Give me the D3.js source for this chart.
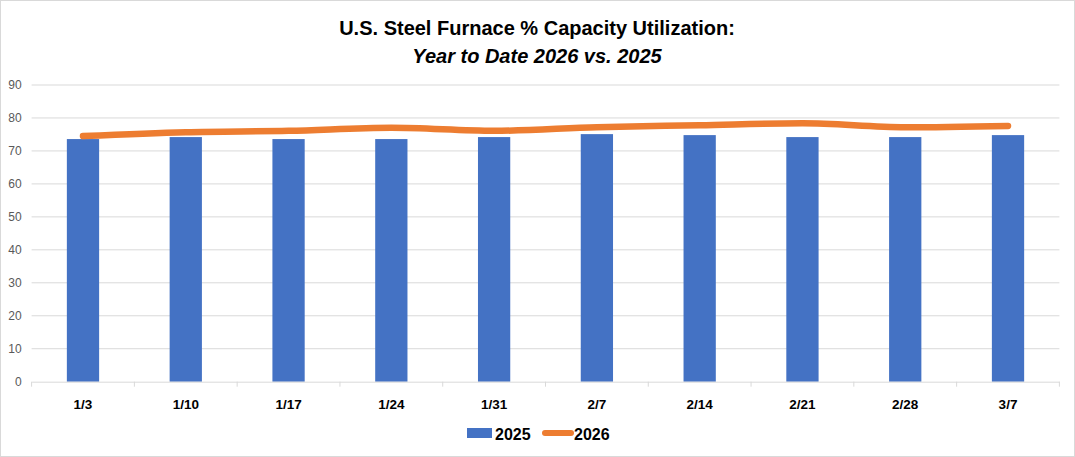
<!DOCTYPE html>
<html>
<head>
<meta charset="utf-8">
<script src="https://cdn.jsdelivr.net/npm/d3@7"></script>
<style>
  body { margin: 0; background: #fff; }
  svg { display: block; font-family: "Liberation Sans", Arial, sans-serif; }
</style>
</head>
<body>
<svg id="chart" width="1075" height="457"></svg>
<script>
// Chart data
const weeks = ["1/3", "1/10", "1/17", "1/24", "1/31", "2/7", "2/14", "2/21", "2/28", "3/7"];
const values2025 = [73.6, 74.2, 73.6, 73.6, 74.2, 75.1, 74.8, 74.2, 74.2, 74.8];
const values2026 = [74.5, 75.7, 76.1, 77.0, 76.1, 77.2, 77.8, 78.4, 77.2, 77.6];
const yTicks = [0, 10, 20, 30, 40, 50, 60, 70, 80, 90];

const svg = d3.select("#chart");
const width = 1075, height = 457;
const margin = { top: 85, right: 15.6, bottom: 75.3, left: 31.6 };

// chart border
svg.append("rect")
    .attr("x", 0.5).attr("y", 0.5)
    .attr("width", width - 1).attr("height", height - 1)
    .attr("fill", "#fff").attr("stroke", "#d9d9d9");

// Title
svg.append("text")
    .attr("x", 537).attr("y", 35)
    .attr("text-anchor", "middle")
    .attr("font-size", 20).attr("font-weight", "bold")
    .attr("fill", "#000")
    .text("U.S. Steel Furnace % Capacity Utilization:");
svg.append("text")
    .attr("x", 537).attr("y", 63)
    .attr("text-anchor", "middle")
    .attr("font-size", 20).attr("font-weight", "bold").attr("font-style", "italic")
    .attr("fill", "#000")
    .text("Year to Date 2026 vs. 2025");

const x = d3.scaleBand()
    .domain(weeks)
    .range([margin.left, width - margin.right])
    .paddingInner(0.686).paddingOuter(0.343);

const xBand = d3.scaleBand()
    .domain(weeks)
    .range([margin.left, width - margin.right]);

const y = d3.scaleLinear()
    .domain([0, 90])
    .range([height - margin.bottom, margin.top]);

// gridlines
svg.append("g")
    .selectAll("line")
    .data(yTicks.slice(1))
    .join("line")
    .attr("x1", margin.left).attr("x2", width - margin.right)
    .attr("y1", d => y(d)).attr("y2", d => y(d))
    .attr("stroke", "#d9d9d9").attr("stroke-width", 1);

// y axis labels
const yAxis = svg.append("g")
    .attr("transform", `translate(${margin.left - 10},0)`)
    .call(d3.axisLeft(y).tickValues(yTicks).tickSize(0).tickPadding(0));
yAxis.select(".domain").remove();
yAxis.selectAll("text")
    .attr("font-size", 12)
    .attr("fill", "#595959")
    .attr("font-family", "Liberation Sans, Arial, sans-serif");

// bars
svg.append("g")
    .selectAll("rect")
    .data(weeks)
    .join("rect")
    .attr("x", d => x(d))
    .attr("width", x.bandwidth())
    .attr("y", (d, i) => y(values2025[i]))
    .attr("height", (d, i) => y(0) - y(values2025[i]))
    .attr("fill", "#4472c4");

// x axis
const xAxis = svg.append("g")
    .attr("transform", `translate(0,${y(0)})`)
    .call(d3.axisBottom(xBand).tickSize(0).tickPadding(18));
xAxis.select(".domain").attr("stroke", "#d9d9d9");
xAxis.selectAll("text")
    .attr("font-size", 13.5)
    .attr("font-weight", "bold")
    .attr("fill", "#000")
    .attr("font-family", "Liberation Sans, Arial, sans-serif");

// band boundary ticks
const bounds = weeks.map(d => xBand(d)).concat([width - margin.right]);
svg.append("g")
    .selectAll("line")
    .data(bounds)
    .join("line")
    .attr("x1", d => d).attr("x2", d => d)
    .attr("y1", y(0)).attr("y2", y(0) + 5)
    .attr("stroke", "#d9d9d9");

// 2026 line
const line = d3.line()
    .x((d, i) => xBand(weeks[i]) + xBand.bandwidth() / 2)
    .y(d => y(d))
    .curve(d3.curveMonotoneX);

svg.append("path")
    .datum(values2026)
    .attr("d", line)
    .attr("fill", "none")
    .attr("stroke", "#ed7d31")
    .attr("stroke-width", 6.5)
    .attr("stroke-linecap", "round")
    .attr("stroke-linejoin", "round");

// legend
const legend = svg.append("g");
legend.append("rect")
    .attr("x", 467).attr("y", 428)
    .attr("width", 25).attr("height", 10)
    .attr("fill", "#4472c4");
legend.append("text")
    .attr("x", 495).attr("y", 439.5)
    .attr("font-size", 16).attr("font-weight", "bold")
    .text("2025");
legend.append("line")
    .attr("x1", 545).attr("x2", 571)
    .attr("y1", 433).attr("y2", 433)
    .attr("stroke", "#ed7d31").attr("stroke-width", 6)
    .attr("stroke-linecap", "round");
legend.append("text")
    .attr("x", 574).attr("y", 439.5)
    .attr("font-size", 16).attr("font-weight", "bold")
    .text("2026");
</script>
</body>
</html>
